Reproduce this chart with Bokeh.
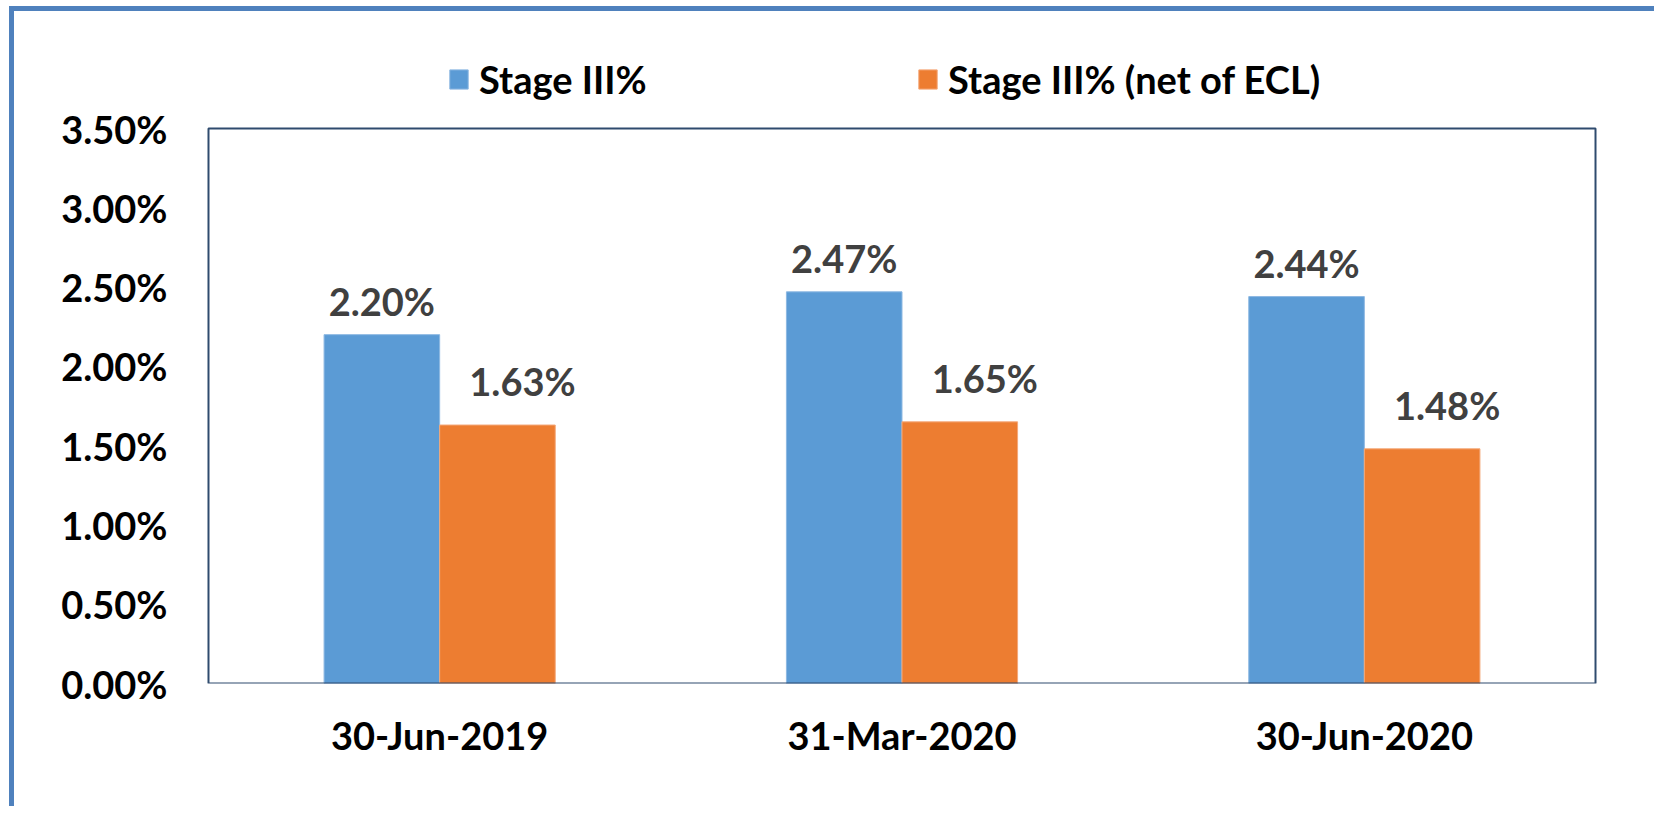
from bokeh.plotting import figure
from bokeh.models import (FactorRange, Range1d, FixedTicker, PrintfTickFormatter,
                          Legend, LegendItem, ColumnDataSource, BoxAnnotation)
from bokeh.transform import dodge
from bokeh.core.properties import value
from bokeh.embed import file_html
from bokeh.resources import INLINE

categories = ["30-Jun-2019", "31-Mar-2020", "30-Jun-2020"]
stage3 = [2.20, 2.47, 2.44]
stage3_net = [1.63, 1.65, 1.48]
y_ticks = [0.0, 0.5, 1.0, 1.5, 2.0, 2.5, 3.0, 3.5]
series_names = ["Stage III%", "Stage III% (net of ECL)"]

FONT = "Lato"
FS = "38px"
BLUE = "#5B9BD5"
ORANGE = "#ED7D31"
NAVY = "#2F4B6E"

# layout (pixels): plot box 208..1595 x 128..683 on the page
Y_MAX = 3.5
PLOT_TOP_PX, PLOT_BOT_PX, FRAME_TOP_PX = 128, 683, 40
y_end = Y_MAX * (PLOT_BOT_PX - FRAME_TOP_PX) / (PLOT_BOT_PX - PLOT_TOP_PX)

src = ColumnDataSource(dict(
    cat=categories,
    s3=stage3,
    s3n=stage3_net,
    s3_lbl=[f"{v:.2f}%" for v in stage3],
    s3n_lbl=[f"{v:.2f}%" for v in stage3_net],
))

p = figure(width=1645, height=800, output_backend="svg", toolbar_location=None,
           x_range=FactorRange(*categories, range_padding=0.0108,
                               range_padding_units="absolute"),
           y_range=Range1d(0, y_end),
           min_border_left=189, min_border_right=59,
           min_border_top=29, min_border_bottom=128)
p.styles = {"border-top": "5px solid #4F81BD", "border-left": "5px solid #4F81BD",
            "margin-left": "9px", "margin-top": "6px"}

r1 = p.vbar(x=dodge("cat", -0.125, range=p.x_range), top="s3", width=0.25,
            source=src, fill_color=BLUE, line_color="#8DB8E2", line_width=1)
r2 = p.vbar(x=dodge("cat", 0.125, range=p.x_range), top="s3n", width=0.25,
            source=src, fill_color=ORANGE, line_color="#F4A97A", line_width=1)

p.add_layout(BoxAnnotation(left=0, right=len(categories), bottom=0, top=Y_MAX,
                           fill_alpha=0, line_color=NAVY, line_alpha=1.0,
                           line_width=2))

p.text(x=dodge("cat", -0.125, range=p.x_range), y="s3", text="s3_lbl", source=src,
       text_font=value(FONT), text_font_style="bold", text_font_size=FS,
       text_color="#404040", text_align="center", text_baseline="middle",
       y_offset=-34)
p.text(x=dodge("cat", 0.125, range=p.x_range), y="s3n", text="s3n_lbl", source=src,
       text_font=value(FONT), text_font_style="bold", text_font_size=FS,
       text_color="#404040", text_align="center", text_baseline="middle",
       x_offset=25, y_offset=-44)

p.xgrid.visible = False
p.ygrid.visible = False
p.outline_line_color = None

p.yaxis.ticker = FixedTicker(ticks=y_ticks)
p.yaxis.formatter = PrintfTickFormatter(format="%.2f%%")
for ax in (p.xaxis[0], p.yaxis[0]):
    ax.axis_line_color = None
    ax.major_tick_line_color = None
    ax.minor_tick_line_color = None
    ax.major_tick_out = 0
    ax.major_tick_in = 0
    ax.minor_tick_out = 0
    ax.major_label_text_font = FONT
    ax.major_label_text_font_style = "bold"
    ax.major_label_text_font_size = FS
    ax.major_label_text_color = "#000000"
p.yaxis.major_label_standoff = 36
p.xaxis.major_label_standoff = 28

leg1 = Legend(items=[LegendItem(label=series_names[0], renderers=[r1])],
              location=(244, 581))
leg2 = Legend(items=[LegendItem(label=series_names[1], renderers=[r2])],
              location=(713, 581))
for lg in (leg1, leg2):
    lg.padding = 0
    lg.margin = 0
    lg.border_line_color = None
    lg.background_fill_alpha = 0
    lg.glyph_width = 23
    lg.glyph_height = 24
    lg.label_height = 24
    lg.label_standoff = 9
    lg.label_text_font = FONT
    lg.label_text_font_style = "bold"
    lg.label_text_font_size = FS
    lg.label_text_color = "#000000"
    lg.label_text_baseline = "middle"
    p.add_layout(lg, "center")

open("out.html", "w").write(file_html(p, INLINE))
